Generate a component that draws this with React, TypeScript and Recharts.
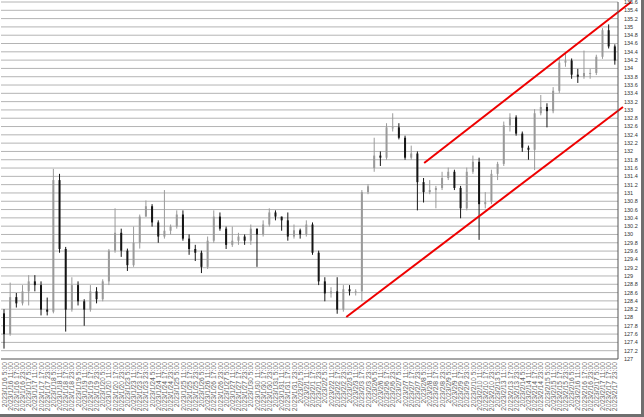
import React from "react";
import { ComposedChart, Bar, XAxis, YAxis, CartesianGrid, ReferenceLine } from "recharts";

const days = ["1/16","1/17","1/18","1/19","1/20","1/23","1/24","1/25","1/26","1/27","1/30","1/31","2/1","2/2","2/3","2/6","2/7","2/8","2/9","2/10","2/13","2/14","2/15","2/16","2/17"];
const hours = ["5:00","11:00","17:00","23:00"];

const opens = [
  128.1, 127.6, 128.49, 128.34, 128.63, 128.87, 128.78, 128.19, 128.14, 131.31,
  129.65, 128.19, 128.78, 128.39, 128.19, 128.63, 128.44, 128.87, 129.61, 130.04,
  129.61, 129.26, 129.8, 130.43, 130.68, 130.29, 129.95, 130.09, 130.19, 130.48,
  129.9, 129.65, 129.56, 129.22, 129.85, 130.43, 130.14, 129.75, 129.85, 129.95,
  129.85, 130.14, 130.0, 130.24, 130.53, 130.43, 130.34, 129.95, 130.1, 130.0,
  130.24, 129.56, 128.87, 128.58, 128.63, 128.19, 128.68, 128.63, 128.63, 131.02,
  131.6, 131.9, 131.85, 132.58, 132.58, 132.33, 131.85, 131.95, 131.26, 131.02,
  131.07, 131.12, 131.36, 131.51, 131.12, 130.63, 131.51, 131.75, 130.73, 130.78,
  131.46, 131.7, 132.63, 132.82, 132.43, 132.09, 132.04, 132.92, 133.07, 132.97,
  133.46, 134.14, 134.19, 133.85, 133.8, 133.89, 133.89, 134.28, 134.92, 134.53,
];
const highs = [
  128.2, 128.84, 128.59, 128.78, 129.02, 129.02, 128.87, 128.48, 131.58, 131.46,
  129.7, 128.97, 128.87, 128.44, 128.78, 128.73, 128.92, 129.65, 130.63, 130.14,
  129.66, 130.19, 130.48, 130.82, 130.73, 130.34, 131.07, 130.24, 130.58, 130.58,
  130.0, 129.75, 129.61, 129.95, 130.58, 130.53, 130.19, 130.19, 130.04, 130.0,
  130.24, 130.14, 130.34, 130.63, 130.58, 130.43, 130.53, 130.24, 130.14, 130.34,
  130.29, 129.61, 128.97, 128.73, 128.97, 128.78, 128.78, 128.68, 131.07, 131.21,
  132.33, 132.0, 132.68, 132.92, 132.68, 132.38, 132.14, 132.0, 131.36, 131.31,
  131.17, 131.51, 131.61, 131.56, 131.17, 131.61, 131.9, 131.85, 131.02, 131.56,
  131.75, 132.72, 132.92, 132.87, 132.48, 132.14, 133.02, 133.36, 133.16, 133.55,
  134.24, 134.39, 134.24, 133.99, 134.43, 133.99, 134.33, 134.97, 135.06, 134.58,
];
const lows = [
  127.25, 127.56, 128.24, 128.29, 128.29, 128.63, 128.05, 128.05, 128.1, 129.56,
  127.66, 128.14, 128.29, 127.8, 128.14, 128.34, 128.39, 128.78, 129.56, 129.46,
  129.12, 129.22, 129.66, 130.43, 130.19, 129.8, 129.9, 130.0, 130.14, 129.85,
  129.51, 129.36, 129.07, 129.17, 129.8, 130.09, 129.65, 129.7, 129.75, 129.75,
  129.75, 129.22, 129.95, 130.19, 130.34, 130.09, 129.85, 129.9, 129.9, 129.95,
  129.51, 128.78, 128.39, 128.48, 128.09, 128.14, 128.53, 128.53, 128.39, 130.97,
  131.51, 131.65, 131.8, 132.48, 132.29, 131.8, 131.8, 130.58, 130.77, 130.97,
  130.63, 131.07, 131.31, 131.07, 130.39, 130.58, 131.46, 129.87, 130.63, 130.73,
  131.31, 131.65, 132.48, 132.38, 131.99, 131.8, 131.55, 132.87, 132.58, 132.92,
  133.41, 134.04, 133.75, 133.65, 133.75, 133.75, 133.84, 134.23, 134.48, 134.09,
];
const closes = [
  127.6, 128.49, 128.34, 128.63, 128.87, 128.78, 128.19, 128.14, 131.31, 129.65,
  128.19, 128.78, 128.39, 128.19, 128.63, 128.44, 128.87, 129.61, 130.04, 129.61,
  129.26, 129.8, 130.43, 130.68, 130.29, 129.95, 130.09, 130.19, 130.48, 129.9,
  129.65, 129.56, 129.22, 129.85, 130.43, 130.14, 129.75, 129.85, 129.95, 129.85,
  130.14, 130.0, 130.24, 130.53, 130.43, 130.34, 129.95, 130.1, 130.0, 130.24,
  129.56, 128.87, 128.58, 128.63, 128.19, 128.68, 128.63, 128.63, 131.02, 131.16,
  131.9, 131.85, 132.58, 132.58, 132.33, 131.85, 131.95, 131.26, 131.02, 131.07,
  131.12, 131.36, 131.51, 131.12, 130.63, 131.51, 131.75, 130.73, 130.78, 131.46,
  131.7, 132.63, 132.82, 132.43, 132.09, 132.04, 132.92, 133.07, 132.97, 133.46,
  134.14, 134.19, 133.85, 133.8, 133.89, 133.89, 134.28, 134.92, 134.53, 134.19,
];

const yTicks = [
  127, 127.2, 127.4, 127.6, 127.8, 128, 128.2, 128.4, 128.6, 128.8,
  129, 129.2, 129.4, 129.6, 129.8, 130, 130.2, 130.4, 130.6, 130.8,
  131, 131.2, 131.4, 131.6, 131.8, 132, 132.2, 132.4, 132.6, 132.8,
  133, 133.2, 133.4, 133.6, 133.8, 134, 134.2, 134.4, 134.6, 134.8,
  135, 135.2, 135.4, 135.6,
];

// trend channel lines: [slot index, price]
const upperLine = [[67.9, 131.72], [101.1, 135.6]];
const lowerLine = [[55.4, 128.01], [99.8, 133.07]];

const labels: string[] = [];
days.forEach((d) => hours.forEach((h) => labels.push(`2023/${d} ${h}`)));

const data = labels.map((label, i) => ({
  label,
  o: opens[i],
  h: highs[i],
  l: lows[i],
  c: closes[i],
}));

const Candle = (props: any) => {
  const { x, y, width, height, payload } = props;
  if (x == null || y == null) return null;
  const top = Math.min(y, y + height);
  const bot = Math.max(y, y + height);
  const { o, h, l, c } = payload;
  const span = h - l || 1;
  const toY = (v: number) => top + ((h - v) / span) * (bot - top);
  const cx = x + width / 2;
  const up = c >= o;
  const color = up ? "#9a9a9a" : "#151515";
  const bTop = toY(Math.max(o, c));
  const bBot = toY(Math.min(o, c));
  return (
    <g>
      <line x1={cx} x2={cx} y1={top} y2={bot} stroke={color} strokeWidth={1} />
      <rect x={cx - 1} y={bTop} width={2} height={Math.max(1, bBot - bTop)} fill={color} />
    </g>
  );
};

const XTick = (props: any) => {
  const { x, y, payload } = props;
  return (
    <text
      x={x}
      y={y}
      transform={`rotate(-90 ${x} ${y})`}
      textAnchor="end"
      dominantBaseline="central"
      fontSize={6.8}
      fill="#666"
      fontFamily="'Liberation Sans', Arial, sans-serif"
    >
      {payload.value}
    </text>
  );
};

export default function App() {
  return (
    <div
      style={{
        position: "absolute",
        left: 0,
        top: 0,
        width: 641,
        height: 414,
        background: "#fff",
        borderRight: "3px solid #6f6f6f",
        borderBottom: "3px solid #6f6f6f",
      }}
    >
      <ComposedChart
        width={641}
        height={414}
        data={data}
        margin={{ top: 2, right: 0, left: 1, bottom: 0 }}
        barCategoryGap={0}
      >
        <CartesianGrid vertical={false} stroke="#b4b4b4" strokeWidth={1} />
        <XAxis
          dataKey="label"
          type="category"
          interval={0}
          height={55}
          tickSize={0}
          tickMargin={3}
          tick={<XTick />}
          axisLine={{ stroke: "#777" }}
        />
        <XAxis xAxisId="num" type="number" domain={[-0.5, 99.5]} hide allowDataOverflow />
        <YAxis
          orientation="right"
          domain={[127, 135.6]}
          ticks={yTicks}
          interval={0}
          width={23}
          tickSize={0}
          tickMargin={6}
          axisLine={{ stroke: "#555" }}
          tick={{ fontSize: 5.5, fill: "#333", fontFamily: "'Liberation Sans', Arial, sans-serif", textAnchor: "start" }}
          allowDataOverflow
        />
        <ReferenceLine xAxisId="num" x={-0.5} stroke="#888" ifOverflow="visible" />
        <Bar
          dataKey={(d: any) => [d.l, d.h]}
          barSize={2}
          shape={<Candle />}
          isAnimationActive={false}
        />
        <ReferenceLine
          xAxisId="num"
          segment={[
            { x: upperLine[0][0], y: upperLine[0][1] },
            { x: upperLine[1][0], y: upperLine[1][1] },
          ]}
          stroke="#ee0000"
          strokeWidth={2}
          ifOverflow="visible"
        />
        <ReferenceLine
          xAxisId="num"
          segment={[
            { x: lowerLine[0][0], y: lowerLine[0][1] },
            { x: lowerLine[1][0], y: lowerLine[1][1] },
          ]}
          stroke="#ee0000"
          strokeWidth={2}
          ifOverflow="visible"
        />
      </ComposedChart>
    </div>
  );
}
